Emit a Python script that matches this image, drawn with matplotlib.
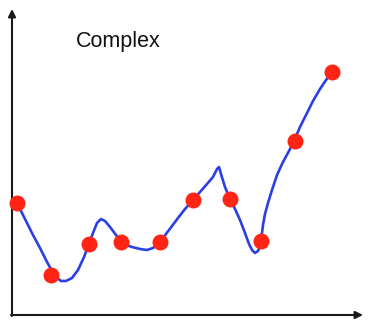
import matplotlib.pyplot as plt

# sample points (x, height above the x axis)
pt_x = [5, 39, 77, 109, 148, 181, 218, 249, 283, 320]
pt_y = [112, 40, 71, 73, 73, 115, 116, 74, 174, 243]

# the wiggly "complex" fit
curve_x = [5, 8, 14, 21, 28, 35, 40, 44, 49, 54, 60, 66, 72, 77, 81, 85, 89, 93,
           98, 104, 109, 114, 120, 128, 135, 141, 148, 154, 160, 166, 173, 181,
           188, 195, 201, 205, 207, 209, 213, 218, 223, 228, 233, 237, 240, 243,
           246, 248, 249, 250, 251, 253, 256, 260, 265, 271, 277, 282, 288, 295,
           301, 308, 314, 320]
curve_y = [112, 106, 94, 80, 67, 53, 44, 38, 34, 34, 37, 45, 58, 71, 82, 92, 96, 94,
           88, 80, 73, 70, 68, 66, 65, 67, 73, 81, 89, 97, 106, 115,
           123, 131, 138, 146, 148, 141, 128, 116, 106, 95, 82, 71, 65, 62,
           64, 69, 74, 82, 90, 101, 112, 125, 140, 153, 164, 174, 188, 202,
           214, 226, 235, 243]

title = "Complex"

fig = plt.figure(figsize=(3.74, 3.35), dpi=100)
ax = fig.add_axes([0, 0, 1, 1])
ax.set_xlim(-12, 362)
ax.set_ylim(-20, 315)
ax.axis('off')

# axes drawn as arrows
arrow = dict(arrowstyle='-|>', color='#1a1a1a', lw=1.5, mutation_scale=11, shrinkA=0, shrinkB=0)
ax.annotate('', xy=(0, 306), xytext=(0, -1), arrowprops=arrow)
ax.annotate('', xy=(351, 0), xytext=(-1, 0), arrowprops=arrow)

ax.plot(curve_x, curve_y, color='#2b3fe6', lw=1.9, solid_joinstyle='round',
        solid_capstyle='round', zorder=2)
ax.plot(pt_x, pt_y, 'o', color='#ff2414', markersize=11.5, markeredgewidth=0, zorder=3)

ax.text(106, 268, title, ha='center', va='baseline', fontsize=15.5,
        family='Liberation Sans', color='#111111')

fig.savefig('out.png', dpi=100)
